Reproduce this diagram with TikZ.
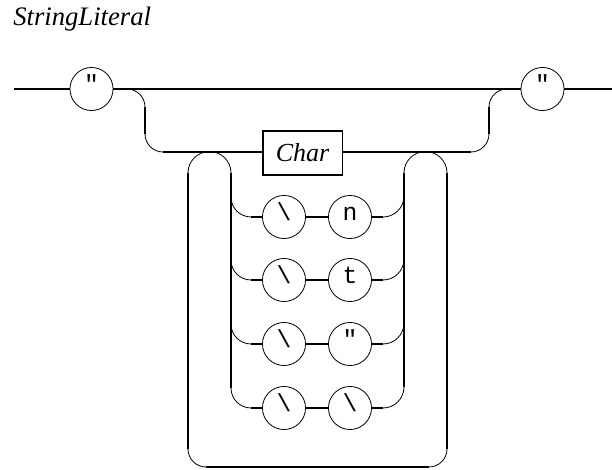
\documentclass[tikz,border=0pt]{standalone}
\usepackage{fontspec}
\setmainfont{Liberation Serif}
\setmonofont{Liberation Mono}
\usetikzlibrary{positioning}

\tikzset{
  track/.style={line width=1.5pt},
  curve/.style={line width=0.6pt},
  term/.style={draw, circle, line width=0.6pt, minimum size=32.3pt, inner sep=0pt,
    font=\fontsize{18.5}{20}\ttfamily, text height=1ex, text depth=0pt},
  nonterm/.style={draw, rectangle, line width=0.8pt, minimum width=59.3pt, minimum height=33pt,
    inner sep=0pt, font=\fontsize{19.5}{22}\itshape}
}

\begin{document}
\begin{tikzpicture}[x=0.75pt,y=0.75pt,yscale=-1,xscale=1]
\useasboundingbox (0,0) rectangle (612,470);

% Text Node
\node [anchor=base west, inner sep=0pt, font=\fontsize{20}{24}\itshape] (title) at (13,25.5) {StringLiteral};

% quotes on the main line
\node [term] (qopen) at (91.5,89) {"};
\node [term] (qclose) at (542.5,89) {"};
% Char box
\node [nonterm] (char) at (302.5,153) {Char};
% escape rows
\node [term] (bsn) at (284,217) {\textbackslash};
\node [term] (n) at (350,217) {n};
\node [term] (bst) at (284,280) {\textbackslash};
\node [term] (t) at (350,280) {t};
\node [term] (bsq) at (284,344) {\textbackslash};
\node [term] (q) at (350,344) {"};
\node [term] (bsb) at (284,408) {\textbackslash};
\node [term] (b) at (350,408) {\textbackslash};

\coordinate (start) at (14,89);
\coordinate (stop) at (612,89);

%Straight Lines
\draw [track] (start) -- (qopen.west);
\draw [track] (qopen.east) -- (qclose.west);
\draw [track] (qclose.east) -- (stop);

% bypass down to Char and back up
\draw [track] (qopen.east) -- (127,89);
\draw [curve] (127,89) arc [start angle=270, end angle=360, radius=18];
\draw [track] (145,107) -- (145,134);
\draw [curve] (145,134) arc [start angle=180, end angle=90, radius=18];
\draw [track] (163,152) -- (char.west |- 0,152);
\draw [track] (char.east |- 0,152) -- (471,152);
\draw [curve] (471,152) arc [start angle=90, end angle=0, radius=18];
\draw [track] (489,134) -- (489,107);
\draw [curve] (489,107) arc [start angle=180, end angle=270, radius=18];

% repeat loop
\draw [curve] (188,173) arc [start angle=180, end angle=360, radius=21.5];
\draw [curve] (404,173) arc [start angle=180, end angle=360, radius=21.5];
\draw [track] (188,173) -- (188,449);
\draw [curve] (188,449) arc [start angle=180, end angle=90, radius=18];
\draw [track] (206,467) -- (429,467);
\draw [curve] (429,467) arc [start angle=90, end angle=0, radius=18];
\draw [track] (447,449) -- (447,173);

% inner rails of the choice
\draw [track] (231,173) -- (231,388);
\draw [track] (404,173) -- (404,387);

% escape rows
\foreach \r/\a/\b in {217/bsn/n, 280/bst/t, 344/bsq/q, 408/bsb/b}{
  \draw [curve] (231,\r-20) arc [start angle=180, end angle=90, radius=20];
  \draw [track] (251,\r) -- (\a.west);
  \draw [track] (\a.east) -- (\b.west);
  \draw [track] (\b.east) -- (383,\r);
  \draw [curve] (383,\r) arc [start angle=90, end angle=0, radius=21];
}

\end{tikzpicture}
\end{document}
